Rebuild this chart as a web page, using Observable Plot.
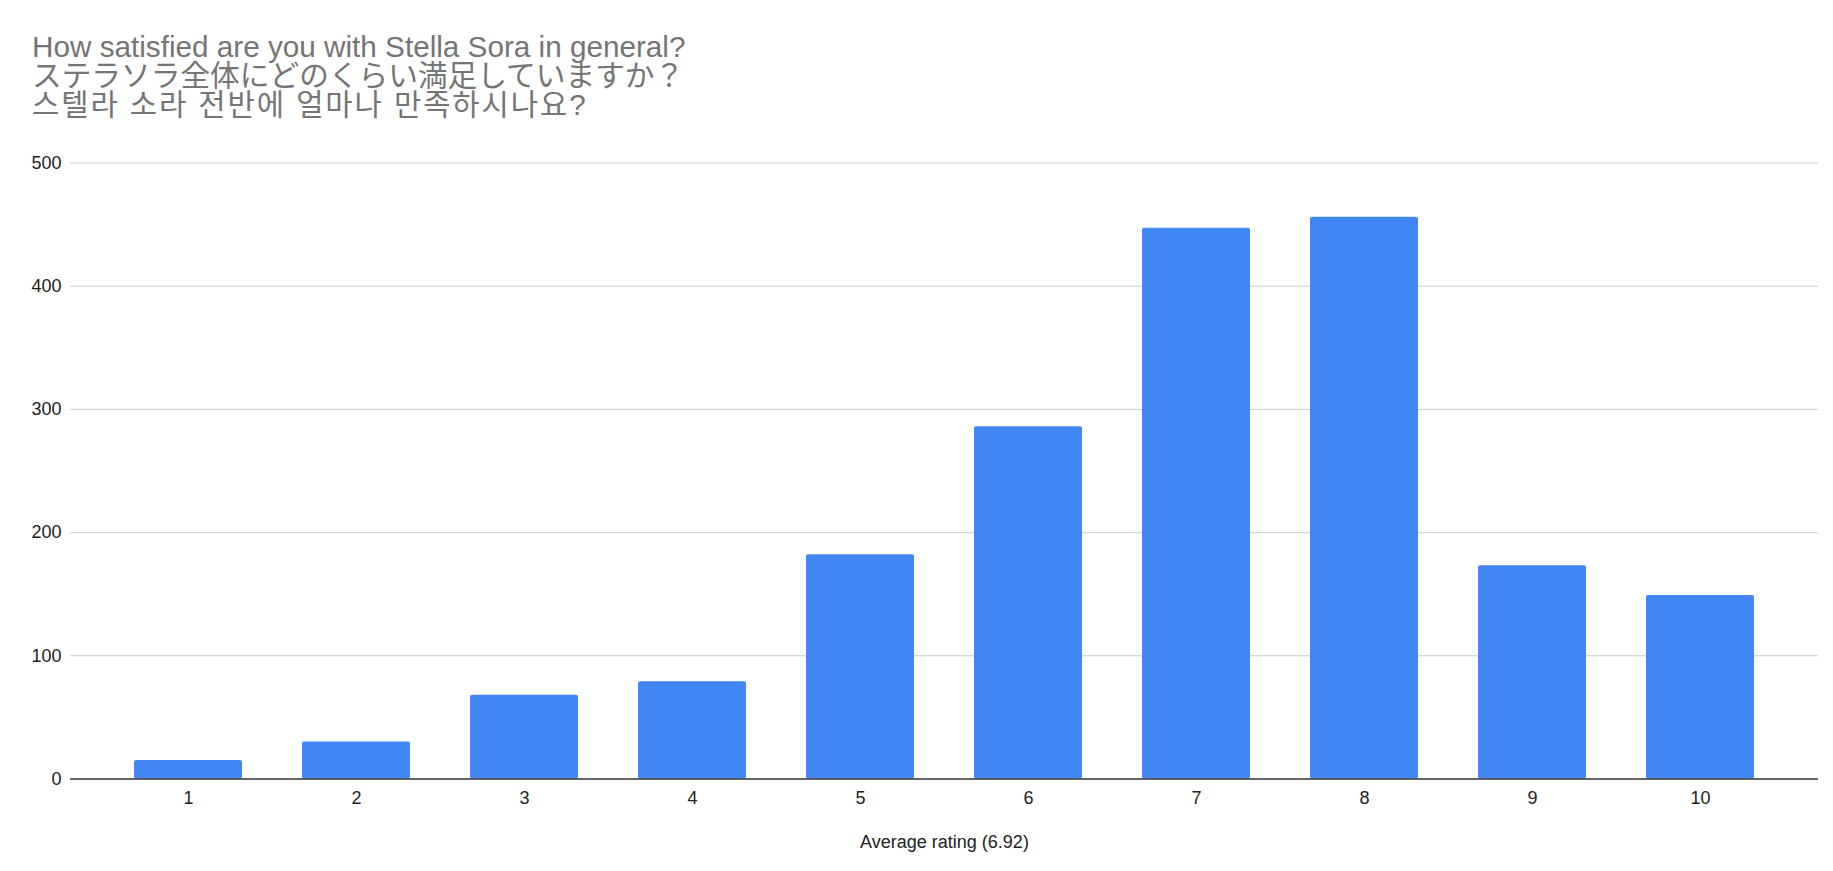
<!DOCTYPE html>
<html>
<head>
<meta charset="utf-8">
<script src="https://cdn.jsdelivr.net/npm/d3@7"></script>
<script src="https://cdn.jsdelivr.net/npm/@observablehq/plot@0.6"></script>
<style>
  html, body { margin: 0; padding: 0; background: #fff; }
  #title { height: 140px; box-sizing: border-box; padding: 31.5px 0 0 32px; color: #757575; font-size: 29.7px; line-height: 29px; font-family: "Liberation Sans", Arial, "Noto Sans CJK JP", "Noto Sans CJK KR", sans-serif; white-space: nowrap; }
  #title .kr { font-family: "Liberation Sans", Arial, "Noto Sans CJK KR", sans-serif; letter-spacing: 1.9px; }
  #chart { line-height: 0; }
</style>
</head>
<body>
<div id="title">How satisfied are you with Stella Sora in general?<br>ステラソラ全体にどのくらい満足していますか？<br><span class="kr">스텔라 소라 전반에 얼마나 만족하시나요?</span></div>
<div id="chart"></div>
<script>
const ratings = ["1", "2", "3", "4", "5", "6", "7", "8", "9", "10"];
const counts = [15, 30, 68, 79, 182, 286, 447, 456, 173, 149];
const yTicks = [0, 100, 200, 300, 400, 500];
const xLabel = "Average rating (6.92)";

const data = ratings.map((r, i) => ({rating: r, count: counts[i]}));

const chart = Plot.plot({
  width: 1833,
  height: 731,
  marginLeft: 70,
  marginRight: 15,
  marginTop: 22.5,
  marginBottom: 92.5,
  style: {fontFamily: "'Liberation Sans', Arial, sans-serif", fontSize: "18px", color: "#222", background: "#fff"},
  x: {domain: ratings, padding: 0.355, label: null},
  y: {domain: [0, 500], label: null},
  marks: [
    Plot.ruleY(yTicks.filter(t => t > 0), {stroke: "#cccccc", strokeWidth: 1}),
    Plot.barY(data, {x: "rating", y: "count", fill: "#4285F4", rx: 2}),
    Plot.ruleY([0], {stroke: "#333333", strokeWidth: 1.5}),
    Plot.axisX({tickSize: 0, tickPadding: 12, label: null, fill: "#222"}),
    Plot.axisY({ticks: yTicks, tickSize: 0, tickPadding: 9, label: null, fill: "#222"}),
    Plot.text([xLabel], {text: d => d, frameAnchor: "bottom", dy: 68.5, lineAnchor: "bottom", fill: "#222"})
  ]
});
document.getElementById("chart").appendChild(chart);
</script>
</body>
</html>
